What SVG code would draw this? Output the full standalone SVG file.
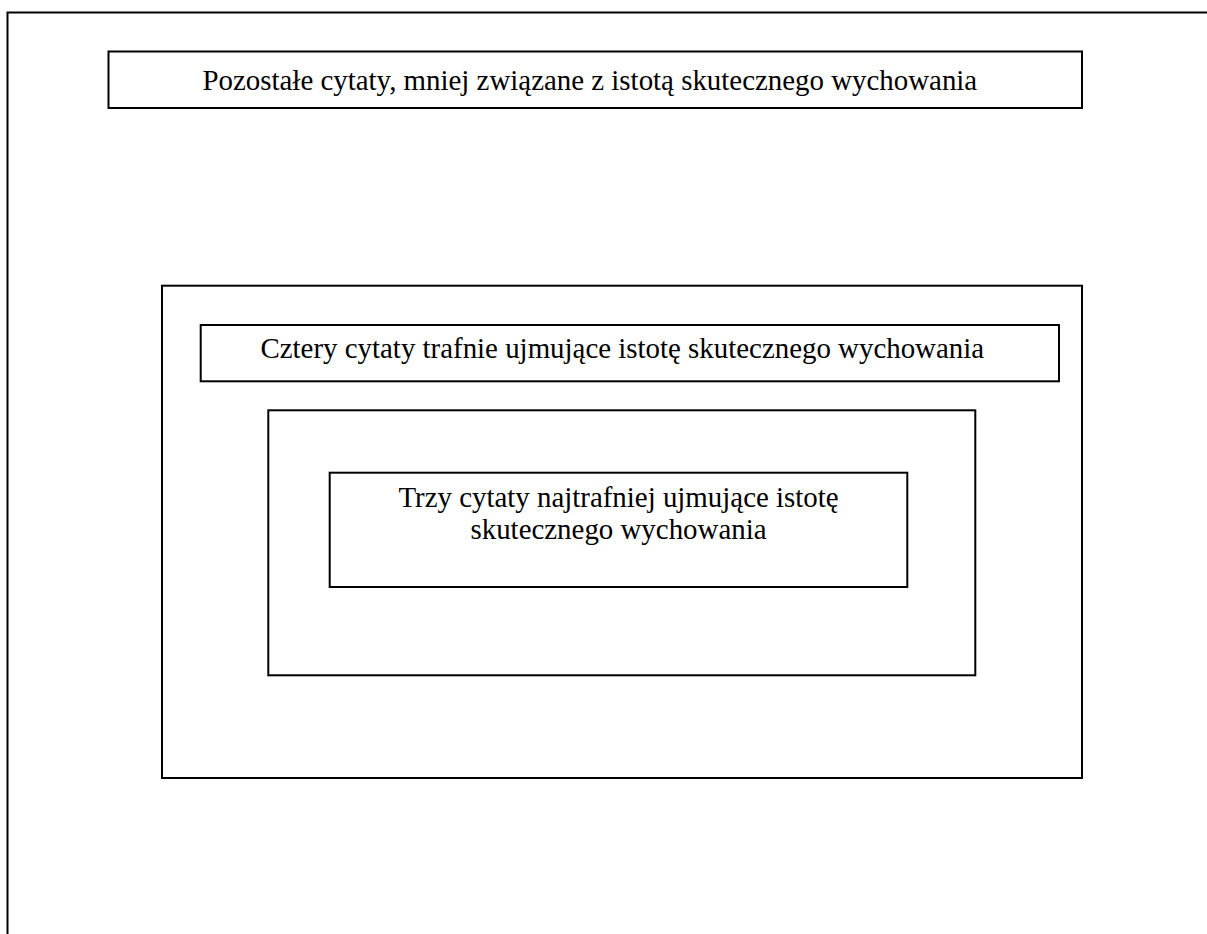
<svg xmlns="http://www.w3.org/2000/svg" width="1207" height="934" viewBox="0 0 1207 934">
<style>
.box{fill:none;stroke:#000;stroke-width:2}
.t{font-family:"Liberation Serif","Times New Roman",serif;font-size:28.9px;fill:#000}
</style>
<rect width="1207" height="934" fill="#fff"/>
<path class="box" d="M1207,12.5 H7.5 V934"/>
<g id="node-pozostale">
<rect class="box" x="108.5" y="51.5" width="973.5" height="56.5"/>
<text class="t" x="202.5" y="89.5">Pozostałe cytaty, mniej związane z istotą skutecznego wychowania</text>
</g>
<g id="node-outer">
<rect class="box" x="162" y="285.7" width="920" height="492.3"/>
</g>
<g id="node-cztery">
<rect class="box" x="200.7" y="325" width="858.3" height="56.3"/>
<text class="t" x="260.5" y="357.5">Cztery cytaty trafnie ujmujące istotę skutecznego wychowania</text>
</g>
<g id="node-middle">
<rect class="box" x="268.3" y="410.3" width="707" height="265"/>
</g>
<g id="node-trzy">
<rect class="box" x="329.7" y="472.7" width="577.6" height="114.3"/>
<text class="t" x="618.5" text-anchor="middle"><tspan x="618.5" y="507">Trzy cytaty najtrafniej ujmujące istotę</tspan><tspan x="618.5" y="539">skutecznego wychowania</tspan></text>
</g>
<g id="connectors"></g>
</svg>
